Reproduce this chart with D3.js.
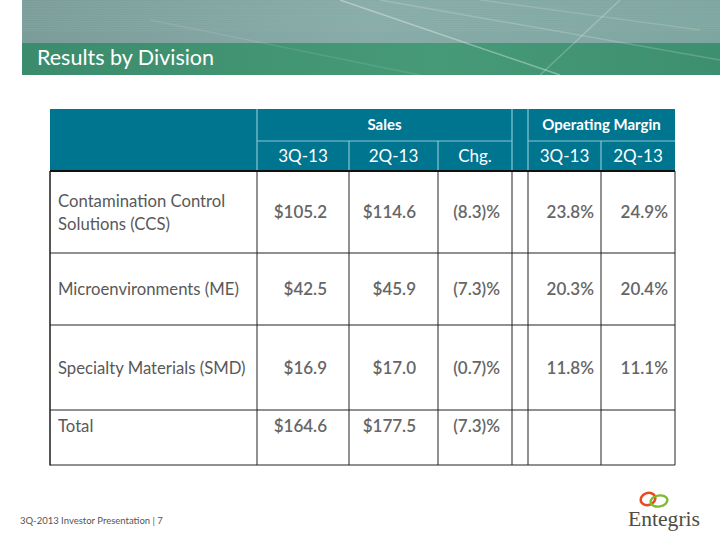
<!DOCTYPE html>
<html><head><meta charset="utf-8">
<script src="https://cdn.jsdelivr.net/npm/d3@7/dist/d3.min.js"></script>
<style>
html,body{margin:0;padding:0;background:#fff;}
svg{display:block;}
</style></head>
<body>
<script>
// ---- data ----
const divisions = [["Contamination Control","Solutions (CCS)"],["Microenvironments (ME)"],["Specialty Materials (SMD)"],["Total"]];
const sales3Q = [105.2, 42.5, 16.9, 164.6];
const sales2Q = [114.6, 45.9, 17.0, 177.5];
const salesChg = [-8.3, -7.3, -0.7, -7.3];
const margin3Q = [23.8, 20.3, 11.8, null];
const margin2Q = [24.9, 20.4, 11.1, null];
const groupLabels = ["Sales", "Operating Margin"];
const periodLabels = ["3Q-13", "2Q-13", "Chg.", "3Q-13", "2Q-13"];
const title = "Results by Division";
const footer = "3Q-2013 Investor Presentation  |  7";

// ---- layout ----
const W = 720, H = 540;
const svg = d3.select("body").append("svg").attr("width", W).attr("height", H);
const defs = svg.append("defs");

// Banner
const g1 = defs.append("linearGradient").attr("id","top").attr("x1",0).attr("x2",1).attr("y1",0).attr("y2",0);
g1.append("stop").attr("offset",0).attr("stop-color","#7b9d99");
g1.append("stop").attr("offset",0.5).attr("stop-color","#88aca8");
g1.append("stop").attr("offset",1).attr("stop-color","#7ea6a0");
const g2 = defs.append("linearGradient").attr("id","grn").attr("x1",0).attr("x2",1).attr("y1",0).attr("y2",0);
g2.append("stop").attr("offset",0).attr("stop-color","#3b8c6c");
g2.append("stop").attr("offset",0.6).attr("stop-color","#479a78");
g2.append("stop").attr("offset",1).attr("stop-color","#3d8f6f");
svg.append("rect").attr("x",22).attr("y",0).attr("width",W-22).attr("height",43).attr("fill","url(#top)");
for (let i=0;i<14;i++) svg.append("line").attr("x1",22).attr("x2",W).attr("y1",2+i*2.2).attr("y2",2+i*2.2)
  .attr("stroke","#ffffff").attr("stroke-opacity",0.06);
svg.append("rect").attr("x",22).attr("y",43).attr("width",W-22).attr("height",32).attr("fill","url(#grn)");
// light streaks
const streaks = [[340,0,560,75,0.35],[380,0,720,60,0.18],[620,0,540,75,0.22],[150,20,420,75,0.1],[480,0,700,30,0.14]];
streaks.forEach(s=>svg.append("line").attr("x1",s[0]).attr("y1",s[1]).attr("x2",s[2]).attr("y2",s[3])
  .attr("stroke","#ffffff").attr("stroke-opacity",s[4]).attr("stroke-width",1.5));
svg.append("rect").attr("x",0).attr("y",0).attr("width",22).attr("height",75).attr("fill","#fff");
svg.append("text").attr("x",37).attr("y",65).text(title)
  .attr("font-family","Lato, 'Open Sans', sans-serif").attr("font-size",21.5).attr("fill","#fff");

// Table geometry
const edges = [50, 257, 349, 438, 512, 528, 601, 675];
const x = d3.scaleOrdinal().domain(d3.range(edges.length)).range(edges);
const headTop = 109, headMid = 141, headBot = 171;
const rowEdges = [171, 253, 325, 410, 465];
const y = d3.scaleOrdinal().domain(d3.range(rowEdges.length)).range(rowEdges);

const teal = "#00758f", sep = "#8cc4d2";
// header
svg.append("rect").attr("x",x(0)).attr("y",headTop).attr("width",x(7)-x(0)).attr("height",headBot-headTop).attr("fill",teal);
const hs = svg.append("g").attr("stroke",sep).attr("stroke-width",1.2);
[1,4,5].forEach(i=>hs.append("line").attr("x1",x(i)).attr("x2",x(i)).attr("y1",headTop).attr("y2",headBot));
[2,3,6].forEach(i=>hs.append("line").attr("x1",x(i)).attr("x2",x(i)).attr("y1",headMid).attr("y2",headBot));
hs.append("line").attr("x1",x(1)).attr("x2",x(4)).attr("y1",headMid).attr("y2",headMid);
hs.append("line").attr("x1",x(5)).attr("x2",x(7)).attr("y1",headMid).attr("y2",headMid);

const font = "Lato, 'Open Sans', sans-serif";
svg.append("text").attr("x",(x(1)+x(4))/2).attr("y",(headTop+headMid)/2+5).attr("text-anchor","middle")
  .attr("font-family",font).attr("font-weight",700).attr("font-size",15).attr("fill","#fff").text(groupLabels[0]);
svg.append("text").attr("x",(x(5)+x(7))/2).attr("y",(headTop+headMid)/2+5).attr("text-anchor","middle")
  .attr("font-family",font).attr("font-weight",700).attr("font-size",15).attr("fill","#fff").text(groupLabels[1]);
const pcols = [1,2,3,5,6];
periodLabels.forEach((t,k)=>{
  const i = pcols[k];
  svg.append("text").attr("x",(x(i)+x(i+1))/2).attr("y",(headMid+headBot)/2+6).attr("text-anchor","middle")
    .attr("font-family",font).attr("font-size",17).attr("fill","#fff").text(t);
});

// body grid
const grid = svg.append("g").attr("stroke","#222").attr("stroke-width",1);
d3.range(1,7).forEach(i=>grid.append("line").attr("x1",x(i)).attr("x2",x(i)).attr("y1",headBot).attr("y2",y(4)));
grid.append("line").attr("x1",x(0)).attr("x2",x(0)).attr("y1",headBot).attr("y2",y(4)+0.5).attr("stroke-width",2).attr("stroke","#555");
grid.append("line").attr("x1",x(7)).attr("x2",x(7)).attr("y1",headBot).attr("y2",y(4));
d3.range(1,5).forEach(r=>grid.append("line").attr("x1",x(0)).attr("x2",x(7)).attr("y1",y(r)).attr("y2",y(r)));
grid.append("line").attr("x1",x(0)).attr("x2",x(7)).attr("y1",headBot).attr("y2",headBot).attr("stroke","#111").attr("stroke-width",2);

const fmtD = d3.format(".1f");
const money = v => "$" + fmtD(v);
const chg = v => v < 0 ? "(" + fmtD(-v) + ")%" : fmtD(v) + "%";
const pct = v => v == null ? "" : fmtD(v) + "%";
const labelColor = "#595959", valColor = "#666666";

divisions.forEach((lines, r) => {
  const isTotal = r === divisions.length - 1;
  const cy = isTotal ? y(r) + 22 : (y(r) + y(r+1)) / 2 + 6;
  lines.forEach((ln, j) => {
    const ly = cy + (j - (lines.length-1)/2) * 23;
    svg.append("text").attr("x", x(0)+8).attr("y", ly).attr("font-family", font).attr("font-size", 16.7)
      .attr("fill", labelColor).text(ln);
  });
  const vals = [[money(sales3Q[r]),1,22],[money(sales2Q[r]),2,22],[chg(salesChg[r]),3,12],[pct(margin3Q[r]),5,7],[pct(margin2Q[r]),6,7]];
  vals.forEach(([t,i,pad]) => {
    svg.append("text").attr("x", x(i+1)-pad).attr("y", cy).attr("text-anchor","end")
      .attr("font-family", font).attr("font-weight", 600).attr("font-size", 17).attr("fill", valColor).text(t);
  });
});

// footer
svg.append("text").attr("x",20).attr("y",524).attr("font-family",font).attr("font-size",9.5).attr("fill","#555").text(footer);
// logo
const logo = svg.append("g");
logo.append("ellipse").attr("cx",648).attr("cy",499).attr("rx",7.5).attr("ry",6).attr("fill","none").attr("stroke","#e84a22").attr("stroke-width",2.6).attr("transform","rotate(-20 648 499)");
logo.append("ellipse").attr("cx",659).attr("cy",501).attr("rx",8.5).attr("ry",5.5).attr("fill","none").attr("stroke","#7cbc2e").attr("stroke-width",2.4).attr("transform","rotate(-10 659 501)");
logo.append("text").attr("x",664).attr("y",526).attr("text-anchor","middle").attr("font-family","'Liberation Serif', 'DejaVu Serif', serif")
  .attr("font-size",22).attr("fill","#4d4d45").attr("textLength",72).attr("lengthAdjust","spacingAndGlyphs").text("Entegris");
</script>
</body></html>
